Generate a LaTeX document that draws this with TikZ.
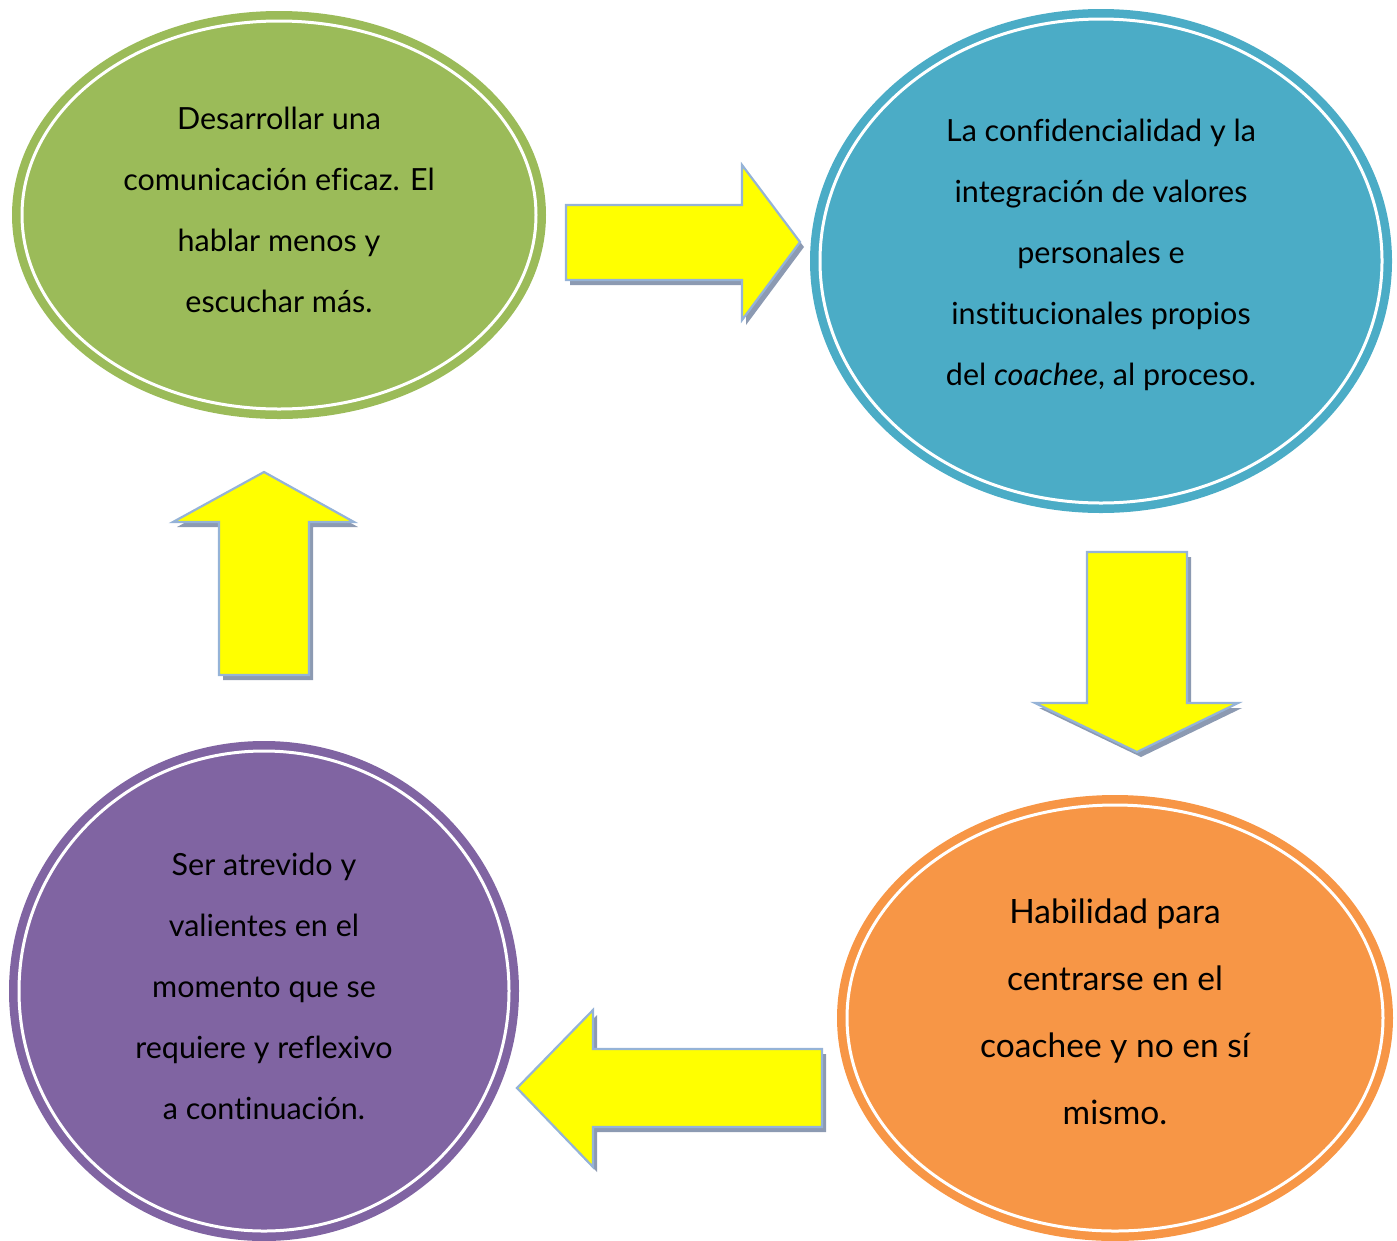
\documentclass[tikz,border=0pt]{standalone}
\usepackage{fontspec}
\setmainfont[Ligatures=NoCommon]{Lato}
\usetikzlibrary{shapes.geometric}
\definecolor{cgreen}{HTML}{9BBB59}
\definecolor{cblue}{HTML}{4BACC6}
\definecolor{corange}{HTML}{F79646}
\definecolor{cpurple}{HTML}{8064A2}
\definecolor{arrline}{HTML}{95B3D7}
\definecolor{arrshadow}{HTML}{8C9AB2}
\definecolor{cyellow}{HTML}{FFFF00}
\tikzset{
  bubble/.style={ellipse, inner sep=0pt, draw=white, line width=3pt},
  txt/.style={align=center, font=\fontsize{30.5}{61}\selectfont, text=black},
  blockarrow/.style={fill=cyellow, draw=arrline, line width=2.2pt, line join=miter},
  arrshade/.style={fill=arrshadow},
}
\begin{document}
\begin{tikzpicture}[x=1pt,y=-1pt]
\useasboundingbox (0,0) rectangle (1397,1240);
% ellipses: outer colour, white ring, inner colour
\fill[cgreen] (279,215) ellipse [x radius=267, y radius=204];
\node[bubble, fill=cgreen, minimum width=514pt, minimum height=388pt] (green) at (279,215) {};
\fill[cblue] (1101,261) ellipse [x radius=291, y radius=252];
\node[bubble, fill=cblue, minimum width=562pt, minimum height=484pt] (blue) at (1101,261) {};
\fill[corange] (1115,1018) ellipse [x radius=278, y radius=223];
\node[bubble, fill=corange, minimum width=536pt, minimum height=426pt] (orange) at (1115,1018) {};
\fill[cpurple] (264,991) ellipse [x radius=255, y radius=250];
\node[bubble, fill=cpurple, minimum width=490pt, minimum height=480pt] (purple) at (264,991) {};
% texts
\node[txt] (tgreen) at (279,210) {Desarrollar una\\comunicación eficaz. El\\hablar menos y\\escuchar más.};
\node[txt] (tblue) at (1101,255) {La confidencialidad y la\\integración de valores\\personales e\\institucionales propios\\del \textit{coachee}, al proceso.};
\node[txt, font=\fontsize{33.5}{67}\selectfont] (torange) at (1115,1012) {Habilidad para\\centrarse en el\\coachee y no en sí\\mismo.};
\node[txt] (tpurple) at (264,986) {Ser atrevido y\\valientes en el\\momento que se\\requiere y reflexivo\\a continuación.};
% right arrow
\begin{scope}[shift={(4,5)}]
\fill[arrshade] (566,205) -- (742,205) -- (742,165) -- (800,242) -- (742,320) -- (742,280) -- (566,280) -- cycle;
\end{scope}
\draw[blockarrow] (566,205) -- (742,205) -- (742,165) -- (800,242) -- (742,320) -- (742,280) -- (566,280) -- cycle;
% up arrow
\begin{scope}[shift={(4,5)}]
\fill[arrshade] (264,472) -- (354,522) -- (309,522) -- (309,675) -- (219,675) -- (219,522) -- (173,522) -- cycle;
\end{scope}
\draw[blockarrow] (264,472) -- (354,522) -- (309,522) -- (309,675) -- (219,675) -- (219,522) -- (173,522) -- cycle;
% down arrow
\begin{scope}[shift={(4,5)}]
\fill[arrshade] (1087,552) -- (1187,552) -- (1187,703) -- (1238,703) -- (1137,752) -- (1035,703) -- (1087,703) -- cycle;
\end{scope}
\draw[blockarrow] (1087,552) -- (1187,552) -- (1187,703) -- (1238,703) -- (1137,752) -- (1035,703) -- (1087,703) -- cycle;
% left arrow
\begin{scope}[shift={(4,5)}]
\fill[arrshade] (517,1088) -- (593,1010) -- (593,1049) -- (822,1049) -- (822,1127) -- (593,1127) -- (593,1167) -- cycle;
\end{scope}
\draw[blockarrow] (517,1088) -- (593,1010) -- (593,1049) -- (822,1049) -- (822,1127) -- (593,1127) -- (593,1167) -- cycle;
\end{tikzpicture}
\end{document}
